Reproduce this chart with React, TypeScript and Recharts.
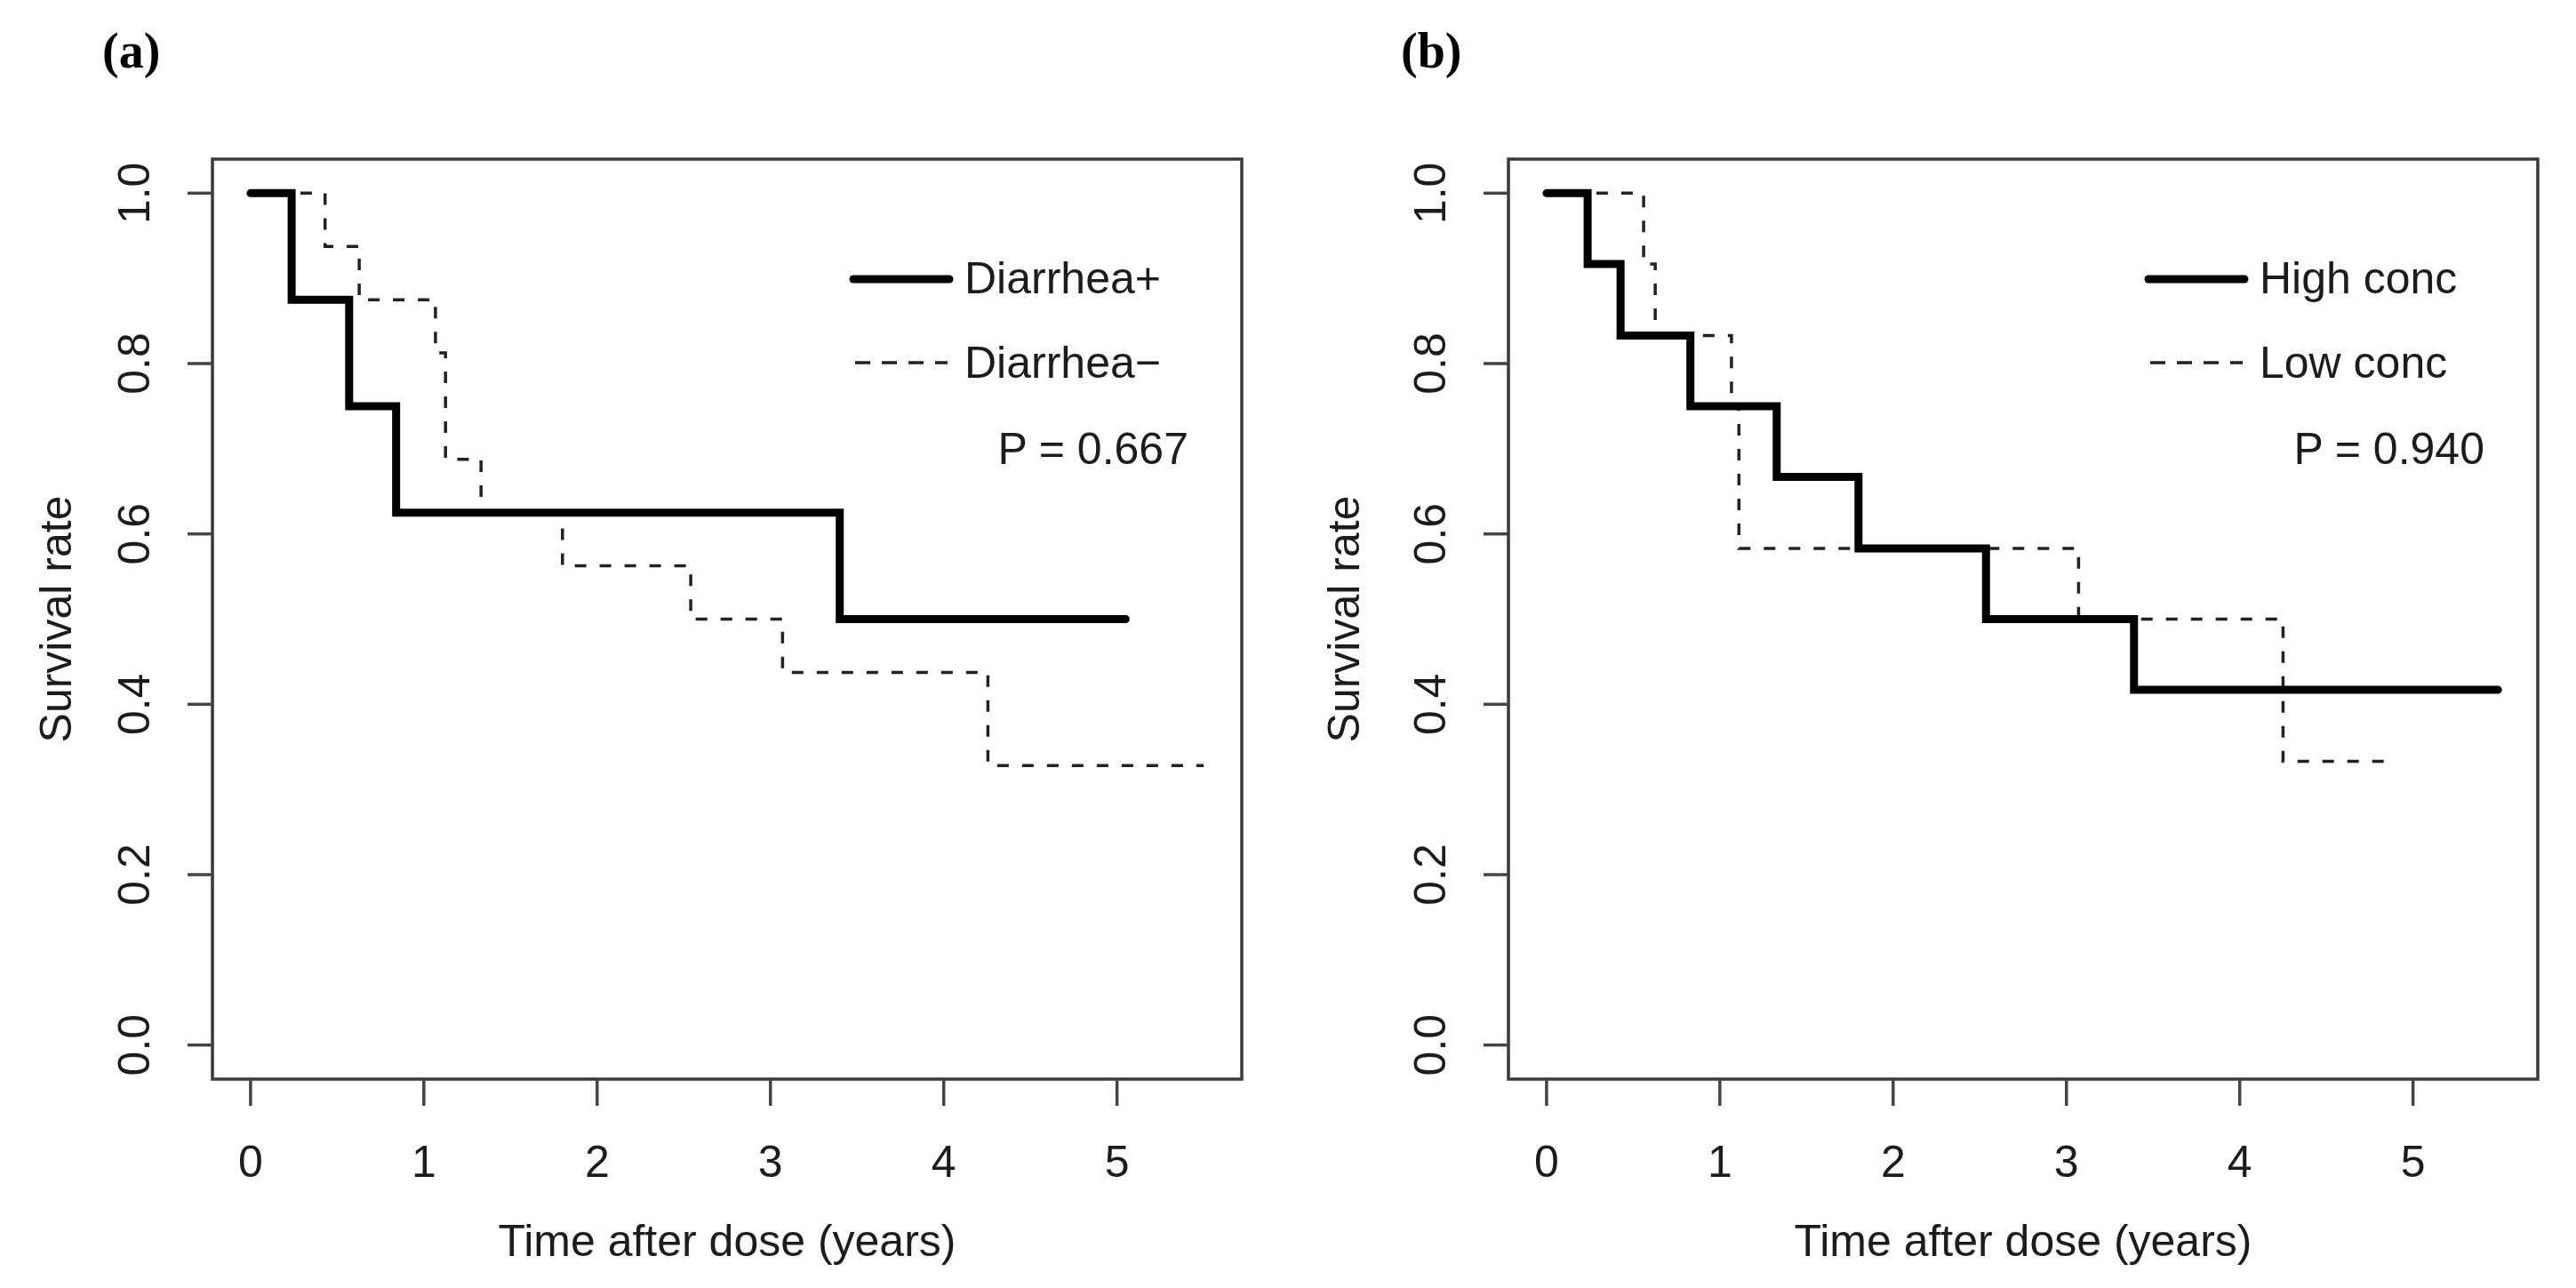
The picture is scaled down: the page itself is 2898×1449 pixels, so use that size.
import React from "react";
import { Label, Line, LineChart, ReferenceArea, XAxis, YAxis } from "recharts";

// tick values
const xTicks = [0, 1, 2, 3, 4, 5];
const yTicks = [0, 0.2, 0.4, 0.6, 0.8, 1.0];
const xDomain = [-0.22, 5.72];
const yDomain = [-0.04, 1.04];

// (a) diarrhea groups
const diarrheaPosTime = [0, 0.237, 0.569, 0.84, 3.4, 5.05];
const diarrheaPosSurv = [1, 0.875, 0.75, 0.625, 0.5, 0.5];
const diarrheaNegTime = [0, 0.43, 0.627, 1.067, 1.125, 1.33, 1.8, 2.54, 3.07, 4.255, 5.5];
const diarrheaNegSurv = [1, 0.9375, 0.875, 0.8125, 0.6875, 0.625, 0.5625, 0.5, 0.4375, 0.328, 0.328];

// (b) concentration groups
const highConcTime = [0, 0.237, 0.427, 0.83, 1.328, 1.8, 2.536, 3.39, 5.49];
const highConcSurv = [1, 0.917, 0.833, 0.75, 0.667, 0.583, 0.5, 0.417, 0.417];
const lowConcTime = [0, 0.56, 0.627, 1.067, 1.11, 3.07, 4.25, 4.89];
const lowConcSurv = [1, 0.917, 0.833, 0.75, 0.583, 0.5, 0.333, 0.333];

const seriesNamesA = ["Diarrhea+", "Diarrhea\u2212"];
const seriesNamesB = ["High conc", "Low conc"];
const pValueA = "P = 0.667";
const pValueB = "P = 0.940";

const zip = (t: number[], s: number[]) => t.map((v, i) => ({ t: v, s: s[i] }));

const TEXT = "#1c1c1c";
const AXIS = "#444";
const FONT = "'Liberation Sans', Arial, sans-serif";

const XTick = (props: any) => {
  const { x, y, payload } = props;
  return (
    <text x={x} y={y + 80} textAnchor="middle" fontSize={50} fill={TEXT} fontFamily={FONT}>
      {payload.value}
    </text>
  );
};

const YTick = (props: any) => {
  const { x, y, payload } = props;
  const tx = x - 43;
  return (
    <text
      x={tx}
      y={y}
      transform={`rotate(-90, ${tx}, ${y})`}
      textAnchor="middle"
      fontSize={50}
      fill={TEXT}
      fontFamily={FONT}
    >
      {Number(payload.value).toFixed(1)}
    </text>
  );
};

const YTitle = (props: any) => {
  const vb = props.viewBox;
  const tx = vb.x + 80;
  const ty = vb.y + vb.height / 2;
  return (
    <text
      x={tx}
      y={ty}
      transform={`rotate(-90, ${tx}, ${ty})`}
      textAnchor="middle"
      fontSize={50}
      fill={TEXT}
      fontFamily={FONT}
    >
      Survival rate
    </text>
  );
};

type PanelProps = {
  left: number;
  yAxisWidth: number;
  marginRight: number;
  solid: { t: number; s: number }[];
  dashed: { t: number; s: number }[];
  names: string[];
};

const Panel = ({ left, yAxisWidth, marginRight, solid, dashed, names }: PanelProps) => (
  <div style={{ position: "absolute", left, top: 0 }}>
    <LineChart
      width={1449}
      height={1449}
      margin={{ top: 179, right: marginRight, left: 0, bottom: 0 }}
    >
      <XAxis
        type="number"
        dataKey="t"
        domain={xDomain}
        ticks={xTicks}
        allowDataOverflow
        height={235}
        axisLine={false}
        tickSize={30}
        tickMargin={0}
        tickLine={{ stroke: AXIS, strokeWidth: 3.5 }}
        tick={XTick}
        interval={0}
      >
        <Label
          value="Time after dose (years)"
          position="insideBottom"
          offset={36}
          fontSize={50}
          fill={TEXT}
          fontFamily={FONT}
        />
      </XAxis>
      <YAxis
        type="number"
        dataKey="s"
        domain={yDomain}
        ticks={yTicks}
        allowDataOverflow
        width={yAxisWidth}
        axisLine={false}
        tickSize={28}
        tickMargin={0}
        tickLine={{ stroke: AXIS, strokeWidth: 3.5 }}
        tick={YTick}
        interval={0}
      >
        <Label content={YTitle} />
      </YAxis>
      <ReferenceArea
        x1={xDomain[0]}
        x2={xDomain[1]}
        y1={yDomain[0]}
        y2={yDomain[1]}
        fill="none"
        fillOpacity={0}
        stroke="#3a3a3a"
        strokeWidth={3.5}
        ifOverflow="visible"
      />
      <Line
        data={dashed}
        dataKey="s"
        name={names[1]}
        type="stepAfter"
        stroke="#222"
        strokeWidth={3.5}
        strokeDasharray="13 15"
        dot={false}
        activeDot={false}
        isAnimationActive={false}
      />
      <Line
        data={solid}
        dataKey="s"
        name={names[0]}
        type="stepAfter"
        stroke="#000"
        strokeWidth={9}
        strokeLinecap="round"
        strokeLinejoin="miter"
        dot={false}
        activeDot={false}
        isAnimationActive={false}
      />
    </LineChart>
  </div>
);

const LegendBox = ({ x, names, p, pRight }: { x: number; names: string[]; p: string; pRight: number }) => (
  <g fontFamily={FONT} fontSize={50} fill={TEXT}>
    <line x1={x} y1={314} x2={x + 108} y2={314} stroke="#000" strokeWidth={9} strokeLinecap="round" />
    <line x1={x + 2} y1={408} x2={x + 106} y2={408} stroke="#222" strokeWidth={3.5} strokeDasharray="17 13" />
    <text x={x + 125} y={330}>{names[0]}</text>
    <text x={x + 125} y={425}>{names[1]}</text>
    <text x={pRight} y={522} textAnchor="end">{p}</text>
  </g>
);

export default function App() {
  return (
    <div style={{ position: "absolute", left: 0, top: 0, width: 2898, height: 1449, background: "#fff" }}>
      <Panel
        left={0}
        yAxisWidth={239}
        marginRight={52}
        solid={zip(diarrheaPosTime, diarrheaPosSurv)}
        dashed={zip(diarrheaNegTime, diarrheaNegSurv)}
        names={seriesNamesA}
      />
      <Panel
        left={1449}
        yAxisWidth={248}
        marginRight={43}
        solid={zip(highConcTime, highConcSurv)}
        dashed={zip(lowConcTime, lowConcSurv)}
        names={seriesNamesB}
      />
      <svg
        width={2898}
        height={1449}
        style={{ position: "absolute", left: 0, top: 0, pointerEvents: "none" }}
      >
        <text x={115} y={76} fontFamily="'Liberation Serif', 'Times New Roman', serif" fontWeight="bold" fontSize={56} fill="#000">
          (a)
        </text>
        <text x={1576} y={76} fontFamily="'Liberation Serif', 'Times New Roman', serif" fontWeight="bold" fontSize={56} fill="#000">
          (b)
        </text>
        <LegendBox x={960} names={seriesNamesA} p={pValueA} pRight={1337} />
        <LegendBox x={2417} names={seriesNamesB} p={pValueB} pRight={2795} />
      </svg>
    </div>
  );
}
